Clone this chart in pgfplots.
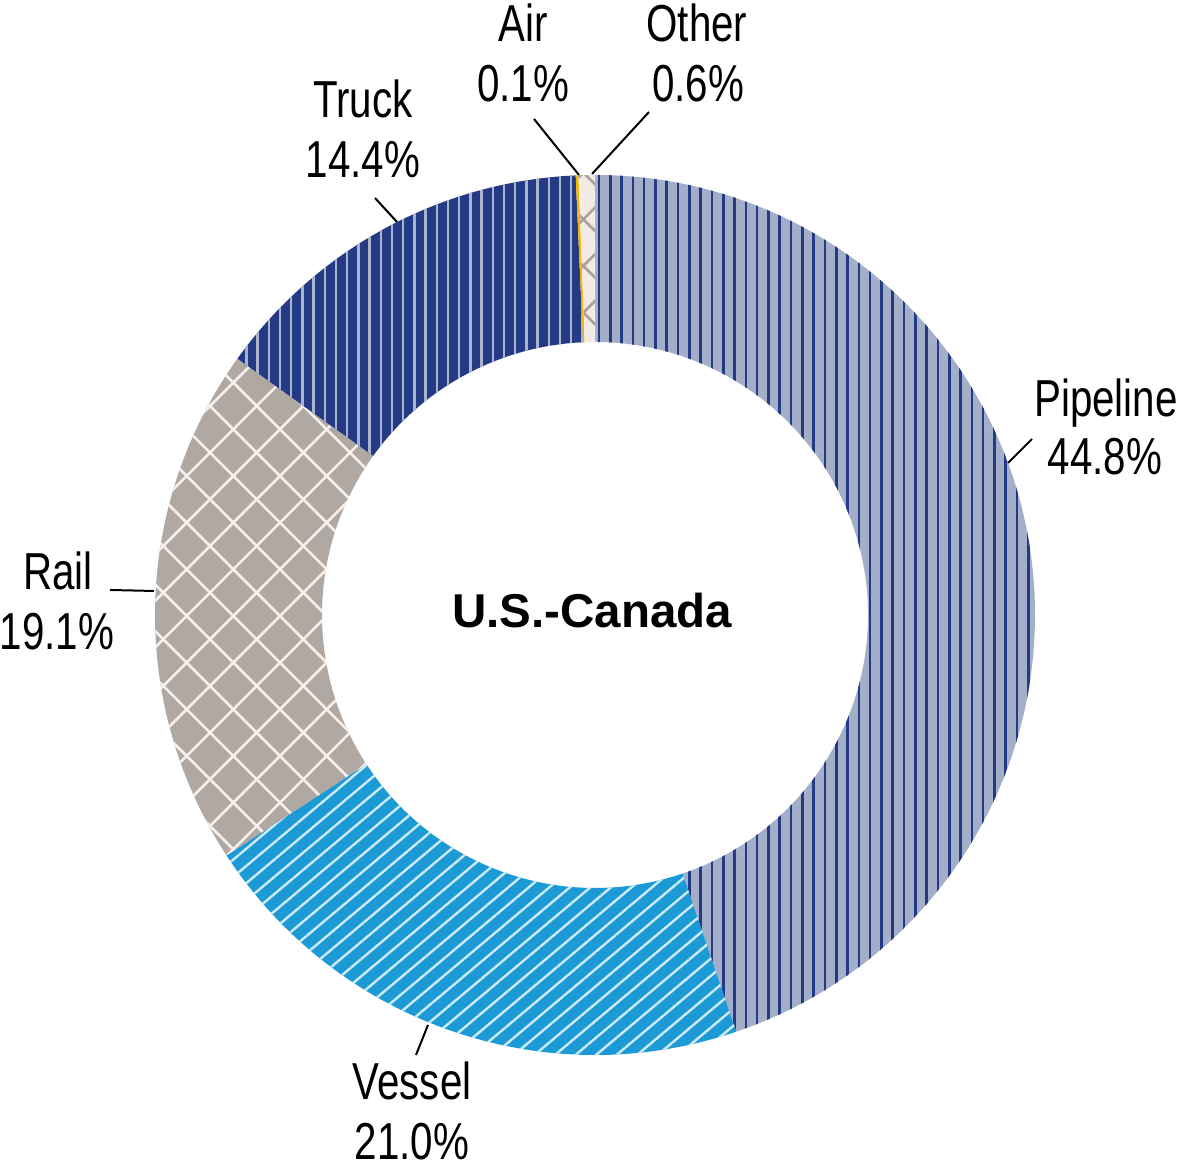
\documentclass[border=0pt]{standalone}
\usepackage{pgfplots}
\pgfplotsset{compat=1.18}
\usepackage{pgfplotstable}
\usetikzlibrary{patterns.meta}
\usepackage{fontspec}
\setmainfont[FakeStretch=0.775]{Liberation Sans}
\newfontfamily\titlefont{Liberation Sans}

\definecolor{pipebg}{HTML}{A3AEC9}
\definecolor{navy}{HTML}{253A84}
\definecolor{truckline}{HTML}{A9B3CD}
\definecolor{railbg}{HTML}{B0A8A2}
\definecolor{railline}{HTML}{F7EFEA}
\definecolor{vesselbg}{HTML}{1B9AD6}
\definecolor{vesselline}{HTML}{CDEBF8}
\definecolor{otherbg}{HTML}{F3EAE5}
\definecolor{otherline}{HTML}{A8A19D}
\definecolor{airc}{HTML}{F4B400}

% shares in percent, clockwise from 12 o'clock
\pgfplotstableread{
mode value
Pipeline 44.8
Vessel 21.0
Rail 19.1
Truck 14.4
Air 0.1
Other 0.6
}\shares

\pgfplotstablegetelem{0}{value}\of\shares \let\vA\pgfplotsretval
\pgfplotstablegetelem{1}{value}\of\shares \let\vB\pgfplotsretval
\pgfplotstablegetelem{2}{value}\of\shares \let\vC\pgfplotsretval
\pgfplotstablegetelem{3}{value}\of\shares \let\vD\pgfplotsretval
\pgfplotstablegetelem{4}{value}\of\shares \let\vE\pgfplotsretval
\pgfplotstablegetelem{5}{value}\of\shares \let\vF\pgfplotsretval
\pgfmathsetmacro\aA{90}
\pgfmathsetmacro\aB{\aA-3.6*\vA}
\pgfmathsetmacro\aC{\aB-3.6*\vB}
\pgfmathsetmacro\aD{\aC-3.6*\vC}
\pgfmathsetmacro\aE{\aD-3.6*\vD}
\pgfmathsetmacro\aF{\aE-3.6*\vE}
\pgfmathsetmacro\aG{\aF-3.6*\vF}

% ring centre (595,561), outer radius 440, inner 273 (axis units = 0.5pt)
\newcommand\slice[3]{%
  \fill[#3] (axis cs:{595+440*cos(#1)},{561+440*sin(#1)})
    arc[start angle=#1, end angle=#2, radius=220pt]
    -- (axis cs:{595+273*cos(#2)},{561+273*sin(#2)})
    arc[start angle=#2, end angle=#1, radius=136.5pt] -- cycle;}
\newcommand\lab{\fontsize{26}{30}\selectfont}

\begin{document}
\begin{tikzpicture}
\begin{axis}[
  scale only axis, width=590pt, height=588pt,
  xmin=0, xmax=1180, ymin=0, ymax=1176,
  hide axis, clip=false]
\coordinate (bl) at (axis cs:0,0);
\coordinate (tr) at (axis cs:1180,1176);
% slices
\slice{\aA}{\aB}{pipebg, postaction={pattern={Lines[angle=90,distance=5.65pt,line width=1.3pt]}, pattern color=navy}}
\slice{\aB}{\aC}{vesselbg, postaction={pattern={Lines[angle=40,distance=6.6pt,line width=1.2pt]}, pattern color=vesselline}}
\slice{\aC}{\aD}{railbg, postaction={pattern={Hatch[angle=45,distance=16.5pt,line width=1.3pt]}, pattern color=railline}}
\slice{\aD}{\aE}{navy, postaction={pattern={Lines[angle=90,distance=5.6pt,line width=1.2pt]}, pattern color=truckline}}
\slice{\aE}{\aF}{airc}
\slice{\aF}{\aG}{otherbg, postaction={pattern={Hatch[angle=45,distance=16.5pt,line width=1.3pt]}, pattern color=otherline}}
% leader lines
\addplot[black, line width=1pt] coordinates {(534,1057) (579,1001)};
\addplot[black, line width=1pt] coordinates {(649,1064) (592,1002)};
\addplot[black, line width=1pt] coordinates {(375,978) (397,954)};
\addplot[black, line width=1pt] coordinates {(1032,737) (1008,713)};
\addplot[black, line width=1pt] coordinates {(110,586) (154,585)};
\addplot[black, line width=1pt] coordinates {(428,151) (416,121)};
% labels
\node[anchor=base, inner sep=0pt, font=\lab] at (axis cs:523,1134) {Air};
\node[anchor=base, inner sep=0pt, font=\lab] at (axis cs:523,1074) {0.1\%};
\node[anchor=base, inner sep=0pt, font=\lab] at (axis cs:697,1134) {Other};
\node[anchor=base, inner sep=0pt, font=\lab] at (axis cs:698,1074) {0.6\%};
\node[anchor=base, inner sep=0pt, font=\lab] at (axis cs:363,1058) {Truck};
\node[anchor=base, inner sep=0pt, font=\lab] at (axis cs:363,998) {14.4\%};
\node[anchor=base, inner sep=0pt, font=\lab] at (axis cs:1106,759) {Pipeline};
\node[anchor=base, inner sep=0pt, font=\lab] at (axis cs:1105,701) {44.8\%};
\node[anchor=base, inner sep=0pt, font=\lab] at (axis cs:58,586) {Rail};
\node[anchor=base, inner sep=0pt, font=\lab] at (axis cs:57,526) {19.1\%};
\node[anchor=base, inner sep=0pt, font=\lab] at (axis cs:412,76) {Vessel};
\node[anchor=base, inner sep=0pt, font=\lab] at (axis cs:412,16) {21.0\%};
\node[anchor=base, inner sep=0pt, font={\titlefont\bfseries\fontsize{23.75}{28}\selectfont}] at (axis cs:592,548) {U.S.-Canada};
\end{axis}
\pgfresetboundingbox
\useasboundingbox (bl) rectangle (tr);
\end{tikzpicture}
\end{document}
